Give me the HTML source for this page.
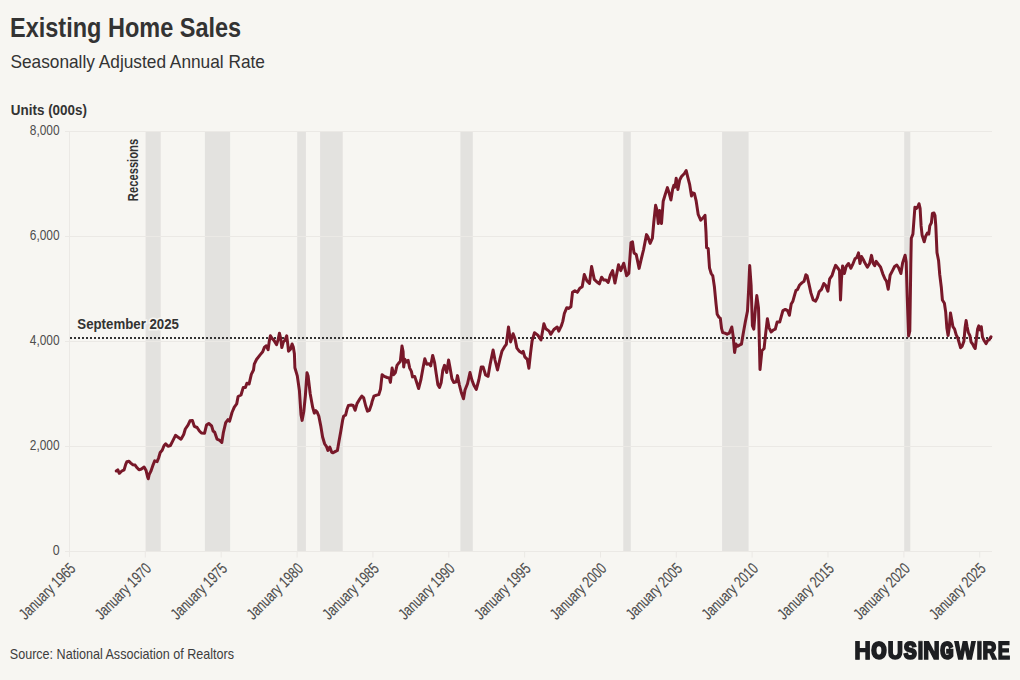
<!DOCTYPE html>
<html><head><meta charset="utf-8"><title>Existing Home Sales</title>
<style>
html,body{margin:0;padding:0;background:#f7f6f2;}
body{width:1020px;height:680px;overflow:hidden;}
svg{display:block;font-family:"Liberation Sans",sans-serif;}
</style></head><body>
<svg width="1020" height="680" viewBox="0 0 1020 680">
<rect width="1020" height="680" fill="#f7f6f2"/>
<rect x="145.6" y="131" width="15.1" height="420.5" fill="#e3e2df"/>
<rect x="204.9" y="131" width="25.2" height="420.5" fill="#e3e2df"/>
<rect x="297.2" y="131" width="8.7" height="420.5" fill="#e3e2df"/>
<rect x="320.1" y="131" width="22.6" height="420.5" fill="#e3e2df"/>
<rect x="460.4" y="131" width="12.4" height="420.5" fill="#e3e2df"/>
<rect x="623.3" y="131" width="7.5" height="420.5" fill="#e3e2df"/>
<rect x="722.1" y="131" width="26.5" height="420.5" fill="#e3e2df"/>
<rect x="904.2" y="131" width="6.1" height="420.5" fill="#e3e2df"/>
<line x1="65" y1="551.5" x2="992" y2="551.5" stroke="#ebe9e5" stroke-width="1"/>
<line x1="65" y1="446.5" x2="992" y2="446.5" stroke="#ebe9e5" stroke-width="1"/>
<line x1="65" y1="341.5" x2="992" y2="341.5" stroke="#ebe9e5" stroke-width="1"/>
<line x1="65" y1="236.5" x2="992" y2="236.5" stroke="#ebe9e5" stroke-width="1"/>
<line x1="65" y1="131.5" x2="992" y2="131.5" stroke="#ebe9e5" stroke-width="1"/>
<line x1="69.5" y1="131" x2="69.5" y2="557" stroke="#ebe9e5" stroke-width="1"/>
<line x1="145.3" y1="551.5" x2="145.3" y2="557.5" stroke="#ebe9e5" stroke-width="1"/>
<line x1="221.2" y1="551.5" x2="221.2" y2="557.5" stroke="#ebe9e5" stroke-width="1"/>
<line x1="297.1" y1="551.5" x2="297.1" y2="557.5" stroke="#ebe9e5" stroke-width="1"/>
<line x1="372.9" y1="551.5" x2="372.9" y2="557.5" stroke="#ebe9e5" stroke-width="1"/>
<line x1="448.8" y1="551.5" x2="448.8" y2="557.5" stroke="#ebe9e5" stroke-width="1"/>
<line x1="524.6" y1="551.5" x2="524.6" y2="557.5" stroke="#ebe9e5" stroke-width="1"/>
<line x1="600.5" y1="551.5" x2="600.5" y2="557.5" stroke="#ebe9e5" stroke-width="1"/>
<line x1="676.3" y1="551.5" x2="676.3" y2="557.5" stroke="#ebe9e5" stroke-width="1"/>
<line x1="752.1" y1="551.5" x2="752.1" y2="557.5" stroke="#ebe9e5" stroke-width="1"/>
<line x1="828.0" y1="551.5" x2="828.0" y2="557.5" stroke="#ebe9e5" stroke-width="1"/>
<line x1="903.9" y1="551.5" x2="903.9" y2="557.5" stroke="#ebe9e5" stroke-width="1"/>
<line x1="979.7" y1="551.5" x2="979.7" y2="557.5" stroke="#ebe9e5" stroke-width="1"/>
<text x="59.6" y="555.1" text-anchor="end" font-size="15.2" fill="#4d4d4d" textLength="6.9" lengthAdjust="spacingAndGlyphs">0</text>
<text x="59.6" y="450.1" text-anchor="end" font-size="15.2" fill="#4d4d4d" textLength="29.8" lengthAdjust="spacingAndGlyphs">2,000</text>
<text x="59.6" y="345.1" text-anchor="end" font-size="15.2" fill="#4d4d4d" textLength="29.8" lengthAdjust="spacingAndGlyphs">4,000</text>
<text x="59.6" y="240.1" text-anchor="end" font-size="15.2" fill="#4d4d4d" textLength="29.8" lengthAdjust="spacingAndGlyphs">6,000</text>
<text x="59.6" y="135.1" text-anchor="end" font-size="15.2" fill="#4d4d4d" textLength="29.8" lengthAdjust="spacingAndGlyphs">8,000</text>
<text transform="translate(76.5,569.6) rotate(-45)" text-anchor="end" font-size="16" fill="#4d4d4d" stroke="#4d4d4d" stroke-width="0.15" textLength="72" lengthAdjust="spacingAndGlyphs">January 1965</text>
<text transform="translate(152.3,569.6) rotate(-45)" text-anchor="end" font-size="16" fill="#4d4d4d" stroke="#4d4d4d" stroke-width="0.15" textLength="72" lengthAdjust="spacingAndGlyphs">January 1970</text>
<text transform="translate(228.2,569.6) rotate(-45)" text-anchor="end" font-size="16" fill="#4d4d4d" stroke="#4d4d4d" stroke-width="0.15" textLength="72" lengthAdjust="spacingAndGlyphs">January 1975</text>
<text transform="translate(304.1,569.6) rotate(-45)" text-anchor="end" font-size="16" fill="#4d4d4d" stroke="#4d4d4d" stroke-width="0.15" textLength="72" lengthAdjust="spacingAndGlyphs">January 1980</text>
<text transform="translate(379.9,569.6) rotate(-45)" text-anchor="end" font-size="16" fill="#4d4d4d" stroke="#4d4d4d" stroke-width="0.15" textLength="72" lengthAdjust="spacingAndGlyphs">January 1985</text>
<text transform="translate(455.8,569.6) rotate(-45)" text-anchor="end" font-size="16" fill="#4d4d4d" stroke="#4d4d4d" stroke-width="0.15" textLength="72" lengthAdjust="spacingAndGlyphs">January 1990</text>
<text transform="translate(531.6,569.6) rotate(-45)" text-anchor="end" font-size="16" fill="#4d4d4d" stroke="#4d4d4d" stroke-width="0.15" textLength="72" lengthAdjust="spacingAndGlyphs">January 1995</text>
<text transform="translate(607.5,569.6) rotate(-45)" text-anchor="end" font-size="16" fill="#4d4d4d" stroke="#4d4d4d" stroke-width="0.15" textLength="72" lengthAdjust="spacingAndGlyphs">January 2000</text>
<text transform="translate(683.3,569.6) rotate(-45)" text-anchor="end" font-size="16" fill="#4d4d4d" stroke="#4d4d4d" stroke-width="0.15" textLength="72" lengthAdjust="spacingAndGlyphs">January 2005</text>
<text transform="translate(759.1,569.6) rotate(-45)" text-anchor="end" font-size="16" fill="#4d4d4d" stroke="#4d4d4d" stroke-width="0.15" textLength="72" lengthAdjust="spacingAndGlyphs">January 2010</text>
<text transform="translate(835.0,569.6) rotate(-45)" text-anchor="end" font-size="16" fill="#4d4d4d" stroke="#4d4d4d" stroke-width="0.15" textLength="72" lengthAdjust="spacingAndGlyphs">January 2015</text>
<text transform="translate(910.9,569.6) rotate(-45)" text-anchor="end" font-size="16" fill="#4d4d4d" stroke="#4d4d4d" stroke-width="0.15" textLength="72" lengthAdjust="spacingAndGlyphs">January 2020</text>
<text transform="translate(986.7,569.6) rotate(-45)" text-anchor="end" font-size="16" fill="#4d4d4d" stroke="#4d4d4d" stroke-width="0.15" textLength="72" lengthAdjust="spacingAndGlyphs">January 2025</text>
<line x1="70" y1="338.0" x2="992" y2="338.0" stroke="#333" stroke-width="2" stroke-dasharray="2 2"/>
<text x="77.3" y="329.4" font-size="14.6" font-weight="bold" fill="#333333" textLength="101.7" lengthAdjust="spacingAndGlyphs" stroke="#f7f6f2" stroke-width="3" paint-order="stroke">September 2025</text>
<text transform="translate(138.3,201.2) rotate(-90)" font-size="14.6" font-weight="bold" fill="#333333" textLength="62.4" lengthAdjust="spacingAndGlyphs">Recessions</text>
<path d="M116.3,471.0 L117.8,469.8 L119.3,473.3 L121.8,471.0 L124.1,469.8 L125.7,464.3 L126.9,461.6 L128.8,461.2 L130.8,463.1 L132.7,464.7 L135.1,465.1 L137.1,467.8 L139.0,469.8 L141.4,469.0 L144.1,467.1 L146.1,470.6 L147.6,476.9 L148.3,478.8 L149.2,474.5 L150.8,471.4 L152.7,465.9 L154.7,460.8 L157.1,461.6 L158.6,458.0 L160.2,452.5 L162.2,450.2 L164.1,445.5 L165.7,443.9 L168.0,446.3 L170.4,445.5 L172.4,441.6 L175.5,435.3 L177.8,436.9 L181.0,439.2 L183.7,434.5 L185.3,429.0 L188.0,425.1 L190.0,420.8 L192.4,420.4 L194.3,426.3 L197.1,427.5 L199.4,431.0 L201.4,433.0 L204.5,433.3 L206.5,425.1 L208.8,423.5 L211.6,425.9 L213.1,431.0 L214.7,432.2 L217.1,439.2 L219.8,440.4 L221.8,442.4 L223.3,432.9 L225.7,422.7 L228.0,419.6 L229.6,421.2 L232.0,412.5 L234.3,407.1 L236.7,403.9 L238.1,396.5 L241.0,395.0 L243.2,387.6 L245.4,387.6 L246.9,383.2 L249.1,384.0 L251.3,374.4 L253.5,370.0 L254.3,364.1 L256.5,359.5 L260.1,354.9 L262.7,351.8 L264.5,347.1 L266.3,345.8 L268.1,349.7 L269.4,340.4 L270.4,335.8 L272.0,338.4 L274.0,340.4 L276.6,344.6 L278.2,339.4 L279.4,333.2 L280.7,338.4 L281.8,347.6 L283.3,342.0 L284.9,340.4 L286.7,335.8 L287.9,345.1 L288.5,351.2 L290.5,349.2 L292.1,344.0 L293.3,347.1 L294.4,353.8 L294.9,367.8 L297.3,375.9 L299.4,390.5 L301.0,414.7 L302.1,420.4 L303.8,411.5 L305.4,395.3 L307.0,372.7 L308.1,375.9 L310.2,393.7 L312.7,407.4 L314.3,413.1 L315.9,410.7 L316.9,411.7 L318.8,416.0 L320.7,425.6 L322.6,437.0 L324.6,443.7 L326.5,446.6 L327.9,450.4 L329.8,447.1 L331.7,452.3 L333.1,452.8 L335.5,451.4 L337.4,450.4 L338.9,441.8 L340.8,431.3 L342.7,419.8 L343.7,416.0 L345.6,415.1 L347.0,409.3 L348.4,405.5 L351.3,405.0 L353.2,405.5 L355.1,410.3 L357.0,403.6 L359.9,398.8 L361.8,396.0 L363.7,397.9 L365.6,405.5 L367.5,411.2 L369.4,410.3 L371.4,404.6 L372.2,401.2 L373.9,396.2 L376.6,395.1 L378.8,394.6 L380.5,389.1 L381.6,379.1 L382.1,374.7 L384.3,376.4 L387.1,377.5 L389.3,378.0 L390.4,382.4 L392.1,368.1 L393.7,374.7 L395.4,372.5 L397.0,365.3 L398.7,363.1 L400.3,361.5 L402.0,346.0 L403.1,351.6 L403.7,367.0 L404.8,359.3 L406.4,362.0 L408.1,360.4 L409.7,368.1 L411.4,371.4 L412.5,376.9 L414.7,376.4 L416.3,381.3 L418.6,388.5 L420.8,380.2 L423.0,368.1 L424.8,358.7 L426.8,364.2 L429.0,363.7 L430.7,365.9 L432.7,355.4 L434.6,362.6 L436.2,373.6 L437.9,384.7 L439.5,387.4 L441.2,382.4 L442.8,370.3 L444.5,365.3 L446.7,372.5 L448.6,360.0 L450.0,367.5 L451.9,378.8 L453.8,382.5 L456.3,381.9 L457.5,375.6 L459.4,385.0 L461.3,392.5 L463.5,398.8 L465.0,390.0 L467.5,383.8 L470.0,372.5 L471.9,380.0 L473.8,385.0 L476.3,389.4 L478.8,380.0 L481.3,366.9 L483.1,366.9 L485.6,375.0 L488.1,376.3 L490.0,365.0 L493.1,350.0 L495.0,360.0 L497.5,370.0 L500.0,358.8 L501.9,351.3 L504.4,346.9 L506.3,344.4 L508.5,326.9 L510.6,341.9 L513.1,333.8 L515.0,338.8 L516.9,348.1 L519.4,351.3 L521.9,352.9 L523.2,351.3 L524.8,356.9 L527.3,359.4 L528.9,368.2 L530.5,353.7 L532.1,340.8 L534.5,332.7 L537.8,335.1 L541.0,340.0 L543.9,323.8 L545.8,328.7 L549.1,331.1 L550.7,334.3 L553.9,329.5 L557.2,327.0 L558.8,331.1 L561.2,326.2 L562.8,321.4 L564.4,313.3 L566.8,307.7 L568.5,308.5 L570.9,306.8 L572.5,292.3 L574.9,290.7 L577.4,292.3 L579.8,288.3 L582.2,286.7 L584.3,274.5 L587.0,281.0 L589.5,283.4 L591.6,266.5 L594.3,279.4 L596.7,281.8 L599.4,283.8 L601.6,277.2 L603.8,280.1 L606.0,280.1 L608.2,282.4 L610.4,275.0 L612.6,270.6 L614.9,283.1 L617.1,272.1 L618.5,264.7 L620.7,270.6 L623.7,263.2 L626.6,275.7 L628.8,273.5 L631.0,242.6 L632.5,241.9 L634.0,252.9 L636.2,254.4 L639.1,268.4 L641.3,258.8 L643.5,250.0 L646.5,234.6 L647.9,236.8 L650.1,243.4 L652.4,238.2 L653.8,222.1 L655.6,205.3 L656.8,209.4 L658.3,223.5 L659.7,210.6 L661.5,223.5 L663.2,201.2 L665.0,195.3 L667.4,187.6 L669.1,192.9 L670.9,200.0 L672.6,189.4 L673.8,185.3 L675.0,187.1 L676.2,178.2 L677.9,189.4 L679.7,180.0 L681.5,176.5 L683.2,174.7 L684.4,173.5 L686.2,170.6 L687.9,177.6 L689.7,184.7 L691.5,195.9 L692.6,192.9 L694.4,193.5 L696.2,201.2 L698.2,214.5 L700.7,220.2 L703.1,217.8 L705.0,215.3 L706.0,232.3 L706.6,247.7 L708.2,248.5 L709.5,267.9 L711.2,273.5 L712.8,275.9 L714.4,286.8 L716.1,304.4 L717.2,314.3 L718.9,317.1 L720.3,318.2 L721.6,328.7 L722.7,332.5 L724.9,333.1 L727.1,334.2 L729.3,333.1 L731.8,327.0 L733.2,336.4 L734.6,352.4 L736.0,344.1 L737.6,346.3 L739.3,345.2 L741.5,344.1 L743.1,334.2 L745.3,322.1 L747.5,311.0 L748.6,290.0 L749.7,265.6 L751.1,285.0 L752.4,325.6 L753.8,329.1 L755.5,307.9 L756.8,295.6 L758.5,307.9 L760.0,369.5 L761.9,350.7 L764.1,348.5 L765.7,333.1 L767.4,318.7 L769.0,327.6 L771.2,332.0 L773.5,329.8 L775.3,329.1 L777.1,322.1 L779.7,322.1 L782.9,310.6 L785.3,309.4 L787.6,310.6 L789.4,315.3 L791.2,304.1 L792.9,301.2 L794.7,294.7 L795.9,290.6 L797.6,289.4 L799.4,285.3 L801.8,282.9 L804.1,281.2 L805.9,274.7 L807.1,275.9 L809.1,284.7 L810.9,292.9 L813.2,300.0 L815.6,301.2 L817.4,297.6 L819.1,291.8 L821.5,289.4 L823.8,283.5 L825.6,285.3 L827.9,291.2 L829.7,278.8 L832.1,275.3 L833.8,270.0 L835.6,265.3 L837.9,268.2 L839.5,270.6 L840.5,300.0 L841.5,278.8 L842.6,265.9 L844.4,273.5 L846.2,266.5 L848.5,263.5 L850.9,268.2 L852.6,264.7 L855.0,258.8 L856.8,257.6 L858.5,252.9 L860.0,263.5 L861.5,256.5 L863.8,260.6 L864.4,262.1 L867.4,267.2 L869.6,263.5 L871.5,255.4 L873.2,263.5 L874.7,265.7 L876.2,261.3 L878.4,264.3 L880.6,267.2 L882.8,273.8 L885.0,279.0 L886.5,281.2 L888.2,289.3 L890.1,275.3 L892.4,270.9 L894.6,266.5 L896.8,265.0 L898.5,267.5 L900.9,273.5 L902.6,262.9 L905.1,255.2 L906.2,262.0 L907.2,295.9 L908.6,335.9 L909.8,331.2 L910.8,265.0 L911.3,238.2 L912.9,234.1 L913.9,220.7 L914.9,207.3 L916.5,208.4 L918.0,206.3 L919.0,203.7 L920.1,208.4 L921.1,225.9 L922.1,235.1 L924.2,241.8 L925.7,236.2 L927.3,233.1 L928.8,234.1 L929.8,225.9 L931.4,222.8 L932.4,213.5 L934.0,213.0 L935.0,215.6 L935.8,225.9 L937.0,252.6 L938.6,260.8 L939.7,274.2 L941.3,287.2 L942.4,300.0 L944.4,303.2 L945.7,312.1 L946.9,328.3 L948.1,335.6 L949.3,327.5 L950.5,312.9 L951.7,319.4 L952.9,326.7 L954.6,329.1 L956.2,334.8 L957.8,338.0 L959.4,343.7 L960.6,347.7 L962.2,346.1 L963.9,341.3 L965.1,327.5 L966.1,320.6 L967.1,326.7 L968.3,332.4 L969.9,335.6 L971.1,342.1 L972.4,343.7 L974.0,346.9 L975.2,348.5 L976.4,338.8 L977.6,329.1 L978.8,325.9 L980.0,329.9 L981.3,326.7 L982.5,337.2 L984.1,340.5 L986.1,343.7 L987.7,340.5 L989.4,339.6 L991.0,336.8" fill="none" stroke="#781829" stroke-width="3.0" stroke-linejoin="round" stroke-linecap="round"/>
<text x="10" y="36.6" font-size="27.2" font-weight="bold" fill="#333333" textLength="231.2" lengthAdjust="spacingAndGlyphs">Existing Home Sales</text>
<text x="10.4" y="68.3" font-size="18.2" fill="#333333" textLength="254.6" lengthAdjust="spacingAndGlyphs">Seasonally Adjusted Annual Rate</text>
<text x="10.8" y="114.6" font-size="14.8" font-weight="bold" fill="#333333" textLength="76.2" lengthAdjust="spacingAndGlyphs">Units (000s)</text>
<text x="9.8" y="658.7" font-size="14.8" fill="#3d3d3d" textLength="224.2" lengthAdjust="spacingAndGlyphs">Source: National Association of Realtors</text>
<g fill="#1d1e21" stroke="#1d1e21" stroke-linejoin="miter"><path vector-effect="non-scaling-stroke" stroke-width="1.3" transform="matrix(0.01113,0,0,-0.01242,854.325,659.150)" d="M1046 0V604H432V0H137V1409H432V848H1046V1409H1341V0Z"/><path vector-effect="non-scaling-stroke" stroke-width="2.6" transform="matrix(0.00907,0,0,-0.01117,871.739,658.277)" d="M1507 711Q1507 491 1420.0 324.0Q1333 157 1171.0 68.5Q1009 -20 793 -20Q461 -20 272.5 175.5Q84 371 84 711Q84 1050 272.0 1240.0Q460 1430 795 1430Q1130 1430 1318.5 1238.0Q1507 1046 1507 711ZM1206 711Q1206 939 1098.0 1068.5Q990 1198 795 1198Q597 1198 489.0 1069.5Q381 941 381 711Q381 479 491.5 345.5Q602 212 793 212Q991 212 1098.5 342.0Q1206 472 1206 711Z"/><path vector-effect="non-scaling-stroke" stroke-width="1.8" transform="matrix(0.01007,0,0,-0.01190,887.861,658.662)" d="M723 -20Q432 -20 277.5 122.0Q123 264 123 528V1409H418V551Q418 384 497.5 297.5Q577 211 731 211Q889 211 974.0 301.5Q1059 392 1059 561V1409H1354V543Q1354 275 1188.5 127.5Q1023 -20 723 -20Z"/><path vector-effect="non-scaling-stroke" stroke-width="2.2" transform="matrix(0.00921,0,0,-0.01145,903.957,658.471)" d="M1286 406Q1286 199 1132.5 89.5Q979 -20 682 -20Q411 -20 257.0 76.0Q103 172 59 367L344 414Q373 302 457.0 251.5Q541 201 690 201Q999 201 999 389Q999 449 963.5 488.0Q928 527 863.5 553.0Q799 579 616 616Q458 653 396.0 675.5Q334 698 284.0 728.5Q234 759 199.0 802.0Q164 845 144.5 903.0Q125 961 125 1036Q125 1227 268.5 1328.5Q412 1430 686 1430Q948 1430 1079.5 1348.0Q1211 1266 1249 1077L963 1038Q941 1129 873.5 1175.0Q806 1221 680 1221Q412 1221 412 1053Q412 998 440.5 963.0Q469 928 525.0 903.5Q581 879 752 842Q955 799 1042.5 762.5Q1130 726 1181.0 677.5Q1232 629 1259.0 561.5Q1286 494 1286 406Z"/><path vector-effect="non-scaling-stroke" stroke-width="0.6" transform="matrix(0.01254,0,0,-0.01292,916.882,659.500)" d="M137 0V1409H432V0Z"/><path vector-effect="non-scaling-stroke" stroke-width="1.6" transform="matrix(0.01113,0,0,-0.01221,923.175,659.000)" d="M995 0 381 1085Q399 927 399 831V0H137V1409H474L1097 315Q1079 466 1079 590V1409H1341V0Z"/><path vector-effect="non-scaling-stroke" stroke-width="2.4" transform="matrix(0.00789,0,0,-0.01131,940.637,658.374)" d="M806 211Q921 211 1029.0 244.5Q1137 278 1196 330V525H852V743H1466V225Q1354 110 1174.5 45.0Q995 -20 798 -20Q454 -20 269.0 170.5Q84 361 84 711Q84 1059 270.0 1244.5Q456 1430 805 1430Q1301 1430 1436 1063L1164 981Q1120 1088 1026.0 1143.0Q932 1198 805 1198Q597 1198 489.0 1072.0Q381 946 381 711Q381 472 492.5 341.5Q604 211 806 211Z"/><path vector-effect="non-scaling-stroke" stroke-width="1.6" transform="matrix(0.01037,0,0,-0.01221,954.979,659.000)" d="M1567 0H1217L1026 815Q991 959 967 1116Q943 985 928.0 916.5Q913 848 715 0H365L2 1409H301L505 499L551 279Q579 418 605.5 544.5Q632 671 805 1409H1135L1313 659Q1334 575 1384 279L1409 395L1462 625L1632 1409H1931Z"/><path vector-effect="non-scaling-stroke" stroke-width="0.6" transform="matrix(0.01288,0,0,-0.01292,975.735,659.500)" d="M137 0V1409H432V0Z"/><path vector-effect="non-scaling-stroke" stroke-width="1.8" transform="matrix(0.00915,0,0,-0.01207,982.746,658.900)" d="M1105 0 778 535H432V0H137V1409H841Q1093 1409 1230.0 1300.5Q1367 1192 1367 989Q1367 841 1283.0 733.5Q1199 626 1056 592L1437 0ZM1070 977Q1070 1180 810 1180H432V764H818Q942 764 1006.0 820.0Q1070 876 1070 977Z"/><path vector-effect="non-scaling-stroke" stroke-width="1.4" transform="matrix(0.00888,0,0,-0.01235,997.784,659.100)" d="M137 0V1409H1245V1181H432V827H1184V599H432V228H1286V0Z"/></g>
</svg>
</body></html>
